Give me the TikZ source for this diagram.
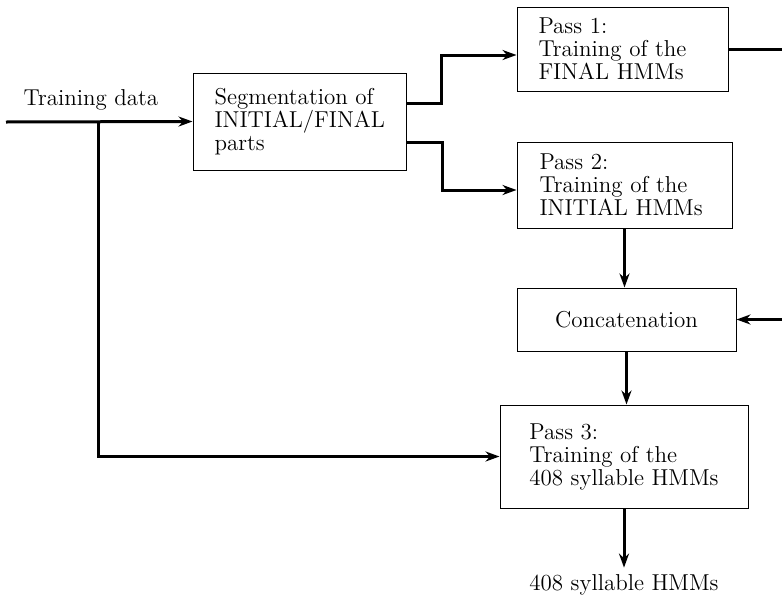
\documentclass[tikz,border=0pt]{standalone}
\usetikzlibrary{arrows.meta}

\begin{document}
\begin{tikzpicture}[x=0.5pt, y=-0.5pt,
    font=\fontsize{11.5}{11.5}\selectfont,
    box/.style={draw, line width=0.5pt, rectangle, align=left, anchor=center},
    conn/.style={line width=1.5pt, -{Stealth[length=7pt, width=5pt]}},
    wire/.style={line width=1.5pt}]
    \useasboundingbox (0, 0) rectangle (782, 600);

    % boxes
    \node [box, minimum width=213*0.5pt, minimum height=97*0.5pt, text width=170*0.5pt] (seg) at (299.5, 121.5)
        {Segmentation of\\INITIAL/FINAL\\parts};
    \node [box, minimum width=211*0.5pt, minimum height=84*0.5pt, text width=168*0.5pt] (pass1) at (622.5, 49)
        {Pass 1:\\Training of the\\FINAL HMMs};
    \node [box, minimum width=215*0.5pt, minimum height=86*0.5pt, text width=170*0.5pt] (pass2) at (624.5, 185)
        {Pass 2:\\Training of the\\INITIAL HMMs};
    \node [box, minimum width=219*0.5pt, minimum height=63*0.5pt, align=center] (concat) at (626.5, 319.5)
        {Concatenation};
    \node [box, minimum width=248*0.5pt, minimum height=103*0.5pt] (pass3) at (624, 456.5)
        {Pass 3:\\Training of the\\408 syllable HMMs};

    \node (data) at (91, 100) {Training data};
    \node (out) at (624, 585) {408 syllable HMMs};

    \coordinate (in) at (6, 122);
    \coordinate (split) at (98, 122);
    \coordinate (r1) at (782, 49);
    \coordinate (r2) at (782, 319.5);

    % connectors
    \draw [conn] (in) -- (seg.west);
    \draw [conn] (split) |- (pass3.west);
    \draw [conn] (seg.east |- 0, 103) -| (441, 55) -- (pass1.west |- 0, 55);
    \draw [conn] (seg.east |- 0, 142) -| (442, 190) -- (pass2.west |- 0, 190);
    \draw [wire] (pass1.east) -- (r1);
    \draw [conn] (r2) -- (concat.east);
    \draw [conn] (pass2.south) -- (pass2.south |- concat.north);
    \draw [conn] (concat.south) -- (concat.south |- pass3.north);
    \draw [conn] (pass3.south -| out.north) -- (out.north);
\end{tikzpicture}
\end{document}
